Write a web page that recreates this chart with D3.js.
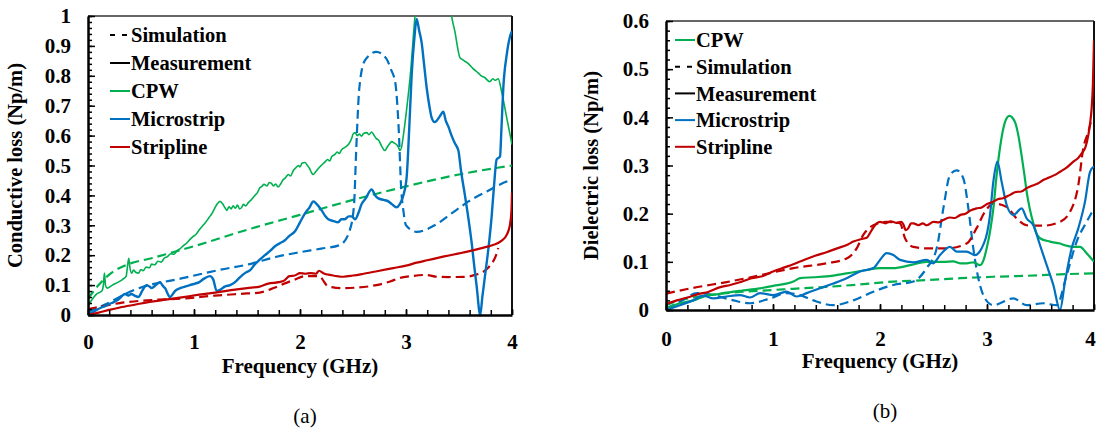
<!DOCTYPE html>
<html>
<head>
<meta charset="utf-8">
<script src="https://cdn.jsdelivr.net/npm/d3@7/dist/d3.min.js"></script>
<style>
  body { margin: 0; background: #fff; }
  svg text { font-family: 'Times New Roman', 'Liberation Serif', Times, 'DejaVu Serif', serif !important; }
</style>
</head>
<body>
<svg id="chart" width="1098" height="432"></svg>
<script>
// ---- data: [frequency (GHz), loss (Np/m)] ----
const condCpwMeas = [
  [0, 0.03], [0.035, 0.05], [0.08, 0.07], [0.13, 0.08], [0.145, 0.1], [0.155, 0.14], [0.165, 0.1], [0.18, 0.09],
  [0.23, 0.1], [0.286, 0.11], [0.33, 0.12], [0.36, 0.13], [0.375, 0.17], [0.385, 0.19], [0.395, 0.16], [0.412, 0.14],
  [0.43, 0.15], [0.45, 0.143], [0.475, 0.14], [0.5, 0.152], [0.52, 0.148], [0.55, 0.16], [0.58, 0.158], [0.6, 0.17],
  [0.63, 0.168], [0.66, 0.18], [0.69, 0.177], [0.72, 0.19], [0.75, 0.195], [0.78, 0.205], [0.81, 0.203], [0.84, 0.215],
  [0.87, 0.222], [0.9, 0.232], [0.93, 0.24], [0.96, 0.252], [0.99, 0.262], [1.02, 0.27], [1.05, 0.285], [1.08, 0.298],
  [1.11, 0.31], [1.14, 0.325], [1.17, 0.34], [1.2, 0.36], [1.22, 0.372], [1.245, 0.38], [1.27, 0.372], [1.29, 0.36],
  [1.31, 0.35], [1.33, 0.362], [1.35, 0.355], [1.37, 0.365], [1.39, 0.357], [1.41, 0.368], [1.43, 0.355], [1.45, 0.36],
  [1.465, 0.37], [1.49, 0.365], [1.51, 0.375], [1.54, 0.385], [1.575, 0.4], [1.6, 0.41], [1.62, 0.425], [1.64, 0.43],
  [1.66, 0.437], [1.69, 0.432], [1.71, 0.443], [1.73, 0.44], [1.75, 0.432], [1.77, 0.438], [1.795, 0.428], [1.82, 0.44],
  [1.84, 0.452], [1.86, 0.458], [1.89, 0.47], [1.91, 0.465], [1.94, 0.485], [1.96, 0.492], [1.985, 0.5], [2.0, 0.495],
  [2.02, 0.508], [2.047, 0.51], [2.07, 0.5], [2.09, 0.49], [2.11, 0.475], [2.126, 0.47], [2.15, 0.48], [2.173, 0.49],
  [2.2, 0.5], [2.236, 0.512], [2.26, 0.52], [2.28, 0.515], [2.3, 0.53], [2.33, 0.537], [2.35, 0.545], [2.37, 0.54],
  [2.393, 0.553], [2.42, 0.56], [2.44, 0.565], [2.46, 0.572], [2.487, 0.59], [2.5, 0.605], [2.52, 0.61], [2.54, 0.6],
  [2.56, 0.605], [2.58, 0.598], [2.6, 0.607], [2.63, 0.61], [2.65, 0.603], [2.676, 0.612], [2.7, 0.6], [2.72, 0.59],
  [2.74, 0.585], [2.77, 0.565], [2.8, 0.55], [2.82, 0.56], [2.84, 0.57], [2.865, 0.58], [2.89, 0.575], [2.91, 0.57],
  [2.93, 0.56], [2.943, 0.55], [2.96, 0.565], [2.975, 0.6], [3.01, 0.7], [3.04, 0.8],
  [3.085, 1.0], [3.12, 1.12], [3.2, 1.3], [3.35, 1.3], [3.43, 1.0], [3.46, 0.95], [3.51, 0.86], [3.53, 0.855],
  [3.55, 0.85], [3.59, 0.84], [3.63, 0.825], [3.68, 0.81], [3.71, 0.8], [3.74, 0.795], [3.79, 0.78], [3.82, 0.79],
  [3.84, 0.785], [3.87, 0.79], [3.9, 0.75], [3.95, 0.66], [4.0, 0.57]
]
const condCpwSim = [
  [0, 0.055], [0.1, 0.1], [0.2, 0.135], [0.38, 0.17], [0.6, 0.19], [0.8, 0.21], [1.0, 0.23], [1.5, 0.285],
  [2.0, 0.335], [2.5, 0.385], [3.0, 0.43], [3.5, 0.47], [4.0, 0.5]
]
const condMicroMeas = [
  [0, 0.005], [0.05, 0.01], [0.097, 0.02], [0.16, 0.03], [0.223, 0.04], [0.28, 0.05], [0.35, 0.07], [0.38, 0.065],
  [0.41, 0.07], [0.44, 0.065], [0.475, 0.06], [0.51, 0.08], [0.553, 0.1], [0.58, 0.095], [0.6, 0.09], [0.64, 0.1],
  [0.68, 0.11], [0.7, 0.1], [0.726, 0.09], [0.774, 0.06], [0.8, 0.07], [0.82, 0.08], [0.87, 0.09], [0.915, 0.095],
  [0.96, 0.1], [1.01, 0.105], [1.05, 0.11], [1.088, 0.12], [1.15, 0.13], [1.18, 0.12], [1.214, 0.08], [1.25, 0.085],
  [1.29, 0.095], [1.34, 0.1], [1.387, 0.11], [1.43, 0.125], [1.48, 0.14], [1.53, 0.15], [1.575, 0.17], [1.62, 0.185],
  [1.67, 0.2], [1.72, 0.215], [1.764, 0.23], [1.81, 0.24], [1.858, 0.25], [1.9, 0.265], [1.953, 0.28], [2.0, 0.31],
  [2.047, 0.34], [2.09, 0.36], [2.126, 0.38], [2.16, 0.37], [2.204, 0.35], [2.24, 0.33], [2.267, 0.32], [2.31, 0.315],
  [2.36, 0.31], [2.39, 0.32], [2.42, 0.32], [2.46, 0.33], [2.487, 0.33], [2.52, 0.32], [2.55, 0.34], [2.58, 0.37],
  [2.62, 0.39], [2.676, 0.42], [2.71, 0.4], [2.74, 0.39], [2.79, 0.385], [2.833, 0.38], [2.87, 0.37], [2.91, 0.36],
  [2.94, 0.37], [2.975, 0.4], [3.006, 0.46], [3.03, 0.62], [3.053, 0.8], [3.08, 0.93], [3.1, 0.99], [3.125, 0.95],
  [3.148, 0.91], [3.17, 0.84], [3.195, 0.76], [3.22, 0.7], [3.242, 0.66], [3.27, 0.645], [3.29, 0.65], [3.32, 0.665],
  [3.352, 0.68], [3.375, 0.65], [3.4, 0.63], [3.43, 0.6], [3.46, 0.575], [3.494, 0.55], [3.52, 0.48], [3.556, 0.4],
  [3.59, 0.32], [3.62, 0.24], [3.645, 0.16], [3.667, 0.095], [3.7, 0.0], [3.72, 0.06], [3.745, 0.13], [3.78, 0.23],
  [3.808, 0.33], [3.83, 0.43], [3.855, 0.52], [3.887, 0.53], [3.9, 0.62], [3.918, 0.76], [3.95, 0.87], [3.98, 0.93], [4.0, 0.95]
]
const condMicroSim = [
  [0, 0.01], [0.16, 0.035], [0.43, 0.083], [0.915, 0.125], [1.23, 0.15], [1.545, 0.172], [1.78, 0.195], [2.0, 0.21],
  [2.2, 0.222], [2.377, 0.234], [2.47, 0.284], [2.51, 0.37], [2.53, 0.55], [2.56, 0.76], [2.61, 0.85], [2.72, 0.88],
  [2.81, 0.86], [2.86, 0.82], [2.9, 0.775], [2.93, 0.63], [2.955, 0.42], [2.975, 0.35], [3.0, 0.3], [3.1, 0.278],
  [3.27, 0.3], [3.43, 0.34], [3.51, 0.36], [3.59, 0.38], [3.745, 0.41], [3.98, 0.45], [4.0, 0.452]
]
const condStripMeas = [
  [0, 0], [0.1, 0.008], [0.2, 0.017], [0.3, 0.025], [0.45, 0.035], [0.6, 0.045], [0.75, 0.052], [0.9, 0.06],
  [1.05, 0.068], [1.2, 0.075], [1.35, 0.083], [1.5, 0.09], [1.62, 0.095], [1.7, 0.105], [1.8, 0.11], [1.85, 0.115],
  [1.9, 0.13], [1.95, 0.132], [2.0, 0.14], [2.05, 0.138], [2.1, 0.14], [2.15, 0.138], [2.18, 0.148], [2.22, 0.14],
  [2.3, 0.133], [2.41, 0.128], [2.5, 0.132], [2.6, 0.138], [2.75, 0.148], [2.88, 0.157], [3.0, 0.165], [3.1, 0.175],
  [3.2, 0.183], [3.35, 0.195], [3.5, 0.206], [3.64, 0.217], [3.75, 0.227], [3.82, 0.234], [3.9, 0.248], [3.95, 0.268],
  [3.98, 0.3], [3.995, 0.35], [4.0, 0.41]
]
const condStripSim = [
  [0, 0.02], [0.15, 0.03], [0.3, 0.04], [0.6, 0.05], [0.9, 0.055], [1.2, 0.065], [1.5, 0.072], [1.62, 0.075],
  [1.75, 0.09], [1.85, 0.105], [1.94, 0.117], [2.05, 0.13], [2.15, 0.13], [2.19, 0.128], [2.22, 0.115], [2.25, 0.1],
  [2.3, 0.093], [2.38, 0.09], [2.55, 0.092], [2.72, 0.1], [2.85, 0.112], [2.94, 0.124], [3.05, 0.13], [3.19, 0.134],
  [3.29, 0.128], [3.4, 0.127], [3.57, 0.128], [3.66, 0.135], [3.73, 0.145], [3.78, 0.16], [3.82, 0.178], [3.85, 0.2], [3.87, 0.224]
]

const dielCpwMeas = [
  [0, 0.003], [0.131, 0.014], [0.255, 0.02], [0.38, 0.03], [0.45, 0.032], [0.567, 0.036], [0.7, 0.04], [0.879, 0.045],
  [1.0, 0.05], [1.19, 0.059], [1.252, 0.066], [1.38, 0.068], [1.502, 0.07], [1.688, 0.076], [1.875, 0.083], [2.0, 0.087],
  [2.125, 0.087], [2.28, 0.093], [2.436, 0.1], [2.592, 0.1], [2.685, 0.101], [2.748, 0.097], [2.81, 0.097], [2.872, 0.099],
  [2.935, 0.093], [2.97, 0.105], [2.997, 0.128], [3.03, 0.165], [3.059, 0.21], [3.09, 0.28], [3.121, 0.336], [3.168, 0.39],
  [3.209, 0.403], [3.262, 0.39], [3.295, 0.36], [3.324, 0.32], [3.35, 0.28], [3.371, 0.245], [3.4, 0.21], [3.433, 0.18],
  [3.46, 0.16], [3.495, 0.149], [3.589, 0.142], [3.682, 0.138], [3.75, 0.133], [3.807, 0.131], [3.869, 0.131], [3.931, 0.118], [4.0, 0.1]
]
const dielCpwSim = [
  [0, 0.01], [0.1, 0.018], [0.255, 0.026], [0.567, 0.035], [0.879, 0.04], [1.19, 0.044], [1.5, 0.048], [1.81, 0.053],
  [2.125, 0.059], [2.436, 0.062], [2.75, 0.066], [3.059, 0.069], [3.37, 0.071], [3.68, 0.074], [4.0, 0.076]
]
const dielMicroMeas = [
  [0, 0], [0.131, 0.01], [0.255, 0.02], [0.349, 0.03], [0.442, 0.024], [0.567, 0.028], [0.692, 0.031], [0.785, 0.026],
  [0.879, 0.035], [1.003, 0.031], [1.128, 0.038], [1.221, 0.028], [1.315, 0.035], [1.439, 0.045], [1.564, 0.055],
  [1.688, 0.066], [1.813, 0.08], [1.938, 0.087], [2.0, 0.104], [2.062, 0.118], [2.125, 0.114], [2.187, 0.104],
  [2.312, 0.099], [2.436, 0.104], [2.498, 0.097], [2.561, 0.114], [2.654, 0.131], [2.717, 0.121], [2.81, 0.121],
  [2.888, 0.114], [2.95, 0.128], [3.028, 0.197], [3.059, 0.266], [3.097, 0.308], [3.137, 0.266], [3.184, 0.218],
  [3.246, 0.197], [3.324, 0.211], [3.371, 0.19], [3.433, 0.176], [3.495, 0.135], [3.558, 0.093], [3.62, 0.052],
  [3.682, 0.0], [3.729, 0.059], [3.791, 0.128], [3.854, 0.17], [3.916, 0.225], [3.963, 0.287], [4.0, 0.298]
]
const dielMicroSim = [
  [0, 0.003], [0.131, 0.017], [0.29, 0.035], [0.442, 0.031], [0.629, 0.02], [0.785, 0.014], [0.972, 0.024], [1.128, 0.035],
  [1.252, 0.031], [1.377, 0.02], [1.564, 0.01], [1.751, 0.02], [1.938, 0.038], [2.125, 0.052], [2.312, 0.059], [2.436, 0.087],
  [2.53, 0.128], [2.592, 0.211], [2.654, 0.28], [2.717, 0.29], [2.779, 0.273], [2.826, 0.211], [2.872, 0.128], [2.919, 0.066],
  [2.981, 0.024], [3.059, 0.01], [3.246, 0.024], [3.371, 0.01], [3.526, 0.014], [3.651, 0.01], [3.745, 0.073], [3.838, 0.142],
  [3.931, 0.183], [4.0, 0.211]
]
const dielStripMeas = [
  [0, 0.012], [0.1, 0.02], [0.2, 0.026], [0.3, 0.033], [0.4, 0.038], [0.5, 0.047], [0.6, 0.052], [0.7, 0.058],
  [0.8, 0.066], [0.9, 0.07], [1.0, 0.08], [1.1, 0.088], [1.19, 0.095], [1.3, 0.105], [1.4, 0.113], [1.5, 0.12],
  [1.6, 0.128], [1.7, 0.136], [1.751, 0.142], [1.82, 0.147], [1.875, 0.15], [1.92, 0.165], [1.969, 0.18], [2.0, 0.183],
  [2.05, 0.18], [2.1, 0.184], [2.15, 0.181], [2.2, 0.183], [2.218, 0.178], [2.24, 0.166], [2.265, 0.17], [2.29, 0.18],
  [2.312, 0.18], [2.36, 0.176], [2.4, 0.18], [2.436, 0.176], [2.5, 0.183], [2.55, 0.182], [2.592, 0.187], [2.65, 0.192],
  [2.7, 0.191], [2.748, 0.197], [2.8, 0.2], [2.85, 0.207], [2.903, 0.211], [2.95, 0.213], [3.0, 0.22], [3.059, 0.225],
  [3.1, 0.23], [3.15, 0.232], [3.215, 0.239], [3.27, 0.245], [3.32, 0.246], [3.371, 0.253], [3.42, 0.258], [3.47, 0.262],
  [3.526, 0.27], [3.58, 0.275], [3.63, 0.28], [3.682, 0.287], [3.74, 0.295], [3.807, 0.308], [3.85, 0.315], [3.885, 0.325],
  [3.92, 0.338], [3.947, 0.363], [3.965, 0.39], [3.978, 0.419], [3.99, 0.47], [4.0, 0.56]
]
const dielStripSim = [
  [0, 0.034], [0.255, 0.046], [0.567, 0.058], [0.879, 0.072], [1.19, 0.087], [1.502, 0.097], [1.688, 0.107], [1.782, 0.128],
  [1.844, 0.156], [1.938, 0.176], [2.062, 0.183], [2.187, 0.18], [2.234, 0.149], [2.312, 0.131], [2.436, 0.128], [2.623, 0.128],
  [2.81, 0.138], [2.903, 0.17], [2.981, 0.204], [3.059, 0.221], [3.184, 0.214], [3.277, 0.19], [3.371, 0.176], [3.526, 0.175],
  [3.682, 0.183], [3.776, 0.204], [3.854, 0.26], [3.9, 0.336], [3.947, 0.37], [3.97, 0.39]
]

const xTicks = [0, 1, 2, 3, 4]
const condTicks = [0, 0.1, 0.2, 0.3, 0.4, 0.5, 0.6, 0.7, 0.8, 0.9, 1]
const dielTicks = [0, 0.1, 0.2, 0.3, 0.4, 0.5, 0.6]
const legendA = ['Simulation', 'Measurement', 'CPW', 'Microstrip', 'Stripline']
const legendB = ['CPW', 'Simulation', 'Measurement', 'Microstrip', 'Stripline']

const green = '#00b050'
const blue = '#0070c0'
const red = '#c00000'
const legendColors = { Simulation: '#000', Measurement: '#000', CPW: green, Microstrip: blue, Stripline: red }
const serif = "'Times New Roman', 'Liberation Serif', Times, 'DejaVu Serif', serif"

const svg = d3.select('#chart')

function drawPanel(opt) {
  const width = opt.x1 - opt.x0
  const height = opt.y1 - opt.y0
  const g = svg.append('g')
    .attr('transform', `translate(${opt.x0},${opt.y0})`)
    .attr('font-family', serif)

  const x = d3.scaleLinear().domain([0, 4]).range([0, width])
  const y = d3.scaleLinear().domain([0, opt.yMax]).range([height, 0])

  g.append('clipPath').attr('id', opt.id + '-clip')
    .append('rect').attr('width', width).attr('height', height)

  // frame: thin top, heavier right
  g.append('line').attr('x1', 0).attr('x2', width).attr('y1', 0).attr('y2', 0)
    .attr('stroke', '#333').attr('stroke-width', 1.5)
  g.append('line').attr('x1', width).attr('x2', width).attr('y1', 0).attr('y2', height)
    .attr('stroke', '#111').attr('stroke-width', 2)

  const line = d3.line()
    .x(d => x(d[0]))
    .y(d => y(d[1]))
    .curve(d3.curveMonotoneX)

  const lines = g.append('g').attr('clip-path', `url(#${opt.id}-clip)`)
  opt.series.forEach(s => {
    lines.append('path')
      .datum(s.data)
      .attr('d', line)
      .attr('fill', 'none')
      .attr('stroke', s.color)
      .attr('stroke-width', s.dash ? 2.2 : s.w)
      .attr('stroke-dasharray', s.dash ? '9,5' : null)
      .attr('stroke-linejoin', 'round')
  })

  // minor ticks
  const xMinor = d3.range(0, 4.001, 0.2)
  g.append('g')
    .attr('transform', `translate(0,${height})`)
    .call(d3.axisBottom(x).tickValues(xMinor).tickSize(-5).tickSizeOuter(0).tickFormat(''))
    .call(a => a.select('.domain').remove())
  const yMinor = d3.range(0, opt.yMax + 0.0001, 0.02)
  g.append('g')
    .call(d3.axisLeft(y).tickValues(yMinor).tickSize(-4).tickSizeOuter(0).tickFormat(''))
    .call(a => a.select('.domain').remove())

  // major axes
  const xAxis = g.append('g')
    .attr('transform', `translate(0,${height})`)
    .call(d3.axisBottom(x).tickValues(xTicks).tickSize(-6).tickSizeOuter(0).tickPadding(opt.xPad).tickFormat(d3.format('d')))
  const yAxis = g.append('g')
    .call(d3.axisLeft(y).tickValues(opt.yTicks).tickSize(-7).tickSizeOuter(0).tickPadding(17)
      .tickFormat(d => d === 0 || d === 1 ? d3.format('d')(d) : d3.format('.1f')(d)))

  ;[xAxis, yAxis].forEach(a => {
    a.attr('font-family', serif)
    a.select('.domain').attr('stroke', '#000').attr('stroke-width', 2.5)
    a.selectAll('text').attr('font-size', 21).attr('font-weight', 'bold').attr('fill', '#000')
  })
  // keep the last frequency label inside the page
  xAxis.selectAll('.tick text').filter(d => d === 4).attr('dx', opt.lastDx)
  g.selectAll('.tick line').attr('stroke', '#000').attr('stroke-width', 1.5)

  // axis titles
  g.append('text')
    .attr('x', width / 2).attr('y', height + 58)
    .attr('text-anchor', 'middle')
    .attr('font-size', 21).attr('font-weight', 'bold')
    .text('Frequency (GHz)')
  g.append('text')
    .attr('transform', `translate(${opt.yTitleX},${height / 2}) rotate(-90)`)
    .attr('text-anchor', 'middle')
    .attr('font-size', 20.5).attr('font-weight', 'bold')
    .text(opt.yTitle)
  g.append('text')
    .attr('x', width / 2 + 5).attr('y', height + 108)
    .attr('text-anchor', 'middle')
    .attr('font-size', 21)
    .text(opt.panel)

  // legend
  const legend = g.append('g').attr('transform', `translate(${opt.legX},${opt.legY})`)
  opt.legend.forEach((name, i) => {
    const row = legend.append('g').attr('transform', `translate(0,${i * opt.legStep})`)
    row.append('line')
      .attr('x1', 0).attr('x2', 20).attr('y1', 0).attr('y2', 0)
      .attr('stroke', legendColors[name]).attr('stroke-width', 2)
      .attr('stroke-dasharray', name === 'Simulation' ? '5,7' : null)
    row.append('text')
      .attr('x', 21).attr('y', 0).attr('dy', '0.35em')
      .attr('font-size', 20.5).attr('font-weight', 'bold')
      .text(name)
  })
}

drawPanel({
  id: 'a', x0: 88, x1: 512, y0: 16, y1: 315, yMax: 1, yTicks: condTicks, xPad: 19, lastDx: 0,
  yTitle: 'Conductive loss (Np/m)', yTitleX: -66, panel: '(a)',
  legend: legendA, legX: 22, legY: 19, legStep: 28,
  series: [
    { data: condCpwSim, color: green, dash: true },
    { data: condMicroSim, color: blue, dash: true },
    { data: condStripSim, color: red, dash: true },
    { data: condCpwMeas, color: green, w: 1.6 },
    { data: condMicroMeas, color: blue, w: 2.4 },
    { data: condStripMeas, color: red, w: 2.2 }
  ]
})

drawPanel({
  id: 'b', x0: 666, x1: 1094, y0: 21, y1: 310, yMax: 0.6, yTicks: dielTicks, xPad: 21, lastDx: -4,
  yTitle: 'Dielectric loss (Np/m)', yTitleX: -68, panel: '(b)',
  legend: legendB, legX: 9, legY: 19, legStep: 26.7,
  series: [
    { data: dielCpwSim, color: green, dash: true },
    { data: dielMicroSim, color: blue, dash: true },
    { data: dielStripSim, color: red, dash: true },
    { data: dielCpwMeas, color: green, w: 2.2 },
    { data: dielMicroMeas, color: blue, w: 2.2 },
    { data: dielStripMeas, color: red, w: 2.2 }
  ]
})
</script>
</body>
</html>
